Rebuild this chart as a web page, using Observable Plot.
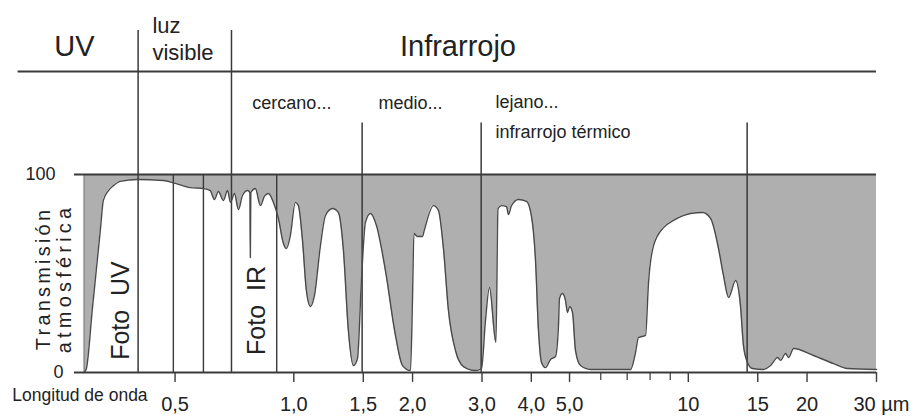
<!DOCTYPE html>
<html><head><meta charset="utf-8">
<script src="https://cdn.jsdelivr.net/npm/d3@7"></script>
<script src="https://cdn.jsdelivr.net/npm/@observablehq/plot@0.6"></script>
<style>body{margin:0;background:#fff} svg{display:block}</style>
</head><body><div id="chart"></div>
<script>
// Atmospheric transmission (%) versus wavelength (µm)
const wavelength = [0.294, 0.298, 0.3085, 0.3158, 0.3233, 0.329, 0.339, 0.349, 0.363, 0.401, 0.467, 0.501, 0.547,
  0.590, 0.614, 0.629, 0.644, 0.663, 0.679, 0.691, 0.707, 0.724, 0.741,
  0.763, 0.774, 0.776, 0.778, 0.799, 0.823, 0.842, 0.862, 0.888, 0.914,
  0.941, 0.958, 0.980, 1.009, 1.027, 1.052, 1.076, 1.102, 1.128, 1.168,
  1.203, 1.253, 1.297, 1.336, 1.375, 1.416, 1.450, 1.484, 1.519, 1.564,
  1.620, 1.707, 1.810, 1.886, 1.976, 1.999, 2.016, 2.058, 2.119, 2.144,
  2.259, 2.326, 2.395, 2.466, 2.569, 2.692, 2.887, 2.991, 3.061, 3.133,
  3.254, 3.293, 3.361, 3.461, 3.501, 3.563, 3.712, 3.889, 4.004, 4.099,
  4.171, 4.245, 4.345, 4.474, 4.606, 4.688, 4.715, 4.798, 4.883, 4.941,
  4.999, 5.087, 5.177, 5.331, 5.649, 7.138, 7.349, 7.479, 7.791, 7.929,
  8.164, 8.656, 9.173, 10.13, 10.87, 11.39, 11.93, 12.28, 12.65, 13.18,
  13.56, 13.80, 14.13, 14.55, 15.51, 16.16, 16.84, 17.13, 17.64, 17.96,
  18.49, 20.77, 23.34, 25.33, 30];
const transmission = [0, 2, 32, 52, 72, 86.9, 91.9, 94.4, 96.5, 97.5, 97, 95.5, 93.4,
  92.9, 91.9, 87.4, 91.4, 86.9, 91.9, 85.9, 90.4, 82.3, 89.4,
  91.9, 90.9, 58, 90.9, 92.9, 84.3, 88.9, 90.4, 85.9, 77.8,
  65.2, 62.6, 69.2, 85.9, 84.3, 66.7, 41.4, 33.3, 38.9, 64.1,
  79.3, 82.8, 80.8, 61.6, 21.2, 3.5, 7.1, 46.5, 75.8, 80.3,
  74.2, 51.5, 18.7, 3.5, 1, 36.4, 70.2, 68.7, 68.7, 72.2,
  84.3, 81.8, 62.6, 31.3, 11.1, 3, 1, 2, 26.3, 42.9,
  15.2, 82.8, 84.3, 83.8, 79.8, 84.3, 87.4, 86.4, 78.8, 56.6,
  21.2, 5.1, 2.5, 6.6, 8.1, 23.7, 37.4, 39.9, 36.4, 30.3,
  33.3, 30.3, 11.1, 3.5, 1.5, 1.5, 10.1, 17.7, 18.7, 45.5,
  64.1, 73.2, 76.8, 80.3, 80.8, 77.8, 62.6, 49, 37.9, 46.5,
  33.8, 13.6, 5.1, 2, 1.5, 3.5, 7.6, 6.1, 9.6, 7.6,
  12.1, 8.6, 4.5, 2, 1.5];

const tickValues = [0.5, 1, 1.5, 2, 3, 4, 5, 10, 15, 20];
const tickLabels = ["0,5", "1,0", "1,5", "2,0", "3,0", "4,0", "5,0", "10", "15", "20"];
const lastTickValue = [30];
const lastTickLabel = ["30 µm"];
const minorTicks = [6, 7, 8, 9];
const yTickValues = [100, 0];
const yTickLabels = ["100", "0"];

const spectralBands = ["UV", "luz\nvisible", "Infrarrojo"];
const bandBoundaries = [0.403, 0.695];
const filmLines = [0.495, 0.59, 0.905];
const irRegionBoundaries = [1.49, 2.985, 14.1];
const irRegions = ["cercano...", "medio...", "lejano...", "infrarrojo térmico"];
const filmLabels = ["Foto\u00a0\u00a0UV", "Foto\u00a0\u00a0IR"];
const yTitle = ["Transmisión", "atmosférica"];
const xTitle = "Longitud de onda";

const spectrum = wavelength.map((w, i) => ({w, t: transmission[i]}));
const ink = "#3a3a3a";
const font = "'Liberation Sans', Arial, Helvetica, sans-serif";

const chart = Plot.plot({
  width: 918,
  height: 419,
  marginLeft: 74,
  marginRight: 42,
  marginTop: 174,
  marginBottom: 47,
  x: {type: "log", domain: [0.278, 30], axis: null},
  y: {domain: [0, 100], axis: null},
  style: {background: "#fff", fontFamily: font, color: "#222", overflow: "visible"},
  marks: [
    // absorbed part (above the transmission curve)
    Plot.areaY(spectrum, {x: "w", y1: "t", y2: 100, fill: "#afafaf", curve: "monotone-x"}),
    Plot.ruleX([wavelength[0]], {y1: 0, y2: 100, stroke: "#7a7a7a", strokeWidth: 1}),
    // film / region lines inside the chart
    Plot.ruleX(filmLines, {y1: 0, y2: 100, stroke: ink, strokeWidth: 1.4}),
    Plot.ruleX(bandBoundaries, {y1: 0, y2: 172.7, stroke: ink, strokeWidth: 1.5}),
    Plot.ruleX(irRegionBoundaries, {y1: 0, y2: 126, stroke: ink, strokeWidth: 1.5}),
    // transmission curve
    Plot.line(spectrum, {x: "w", y: "t", stroke: "#4a4a4a", strokeWidth: 1.4, curve: "monotone-x"}),
    // 100 % and 0 % lines
    Plot.ruleY([100], {stroke: ink, strokeWidth: 2}),
    Plot.ruleY([0], {stroke: ink, strokeWidth: 2}),
    // x ticks
    Plot.ruleX(tickValues.concat(lastTickValue), {y1: 0, y2: -5, stroke: ink, strokeWidth: 1.4}),
    Plot.ruleX(minorTicks, {y1: 0, y2: -4, stroke: ink, strokeWidth: 1.2}),
    Plot.text(tickLabels, {x: tickValues, y: -16.4, text: d => d, fontSize: 20, fill: "#222", lineAnchor: "middle"}),
    Plot.text(lastTickLabel, {x: lastTickValue, y: -16.4, text: d => d, fontSize: 20, fill: "#222", lineAnchor: "middle", textAnchor: "start", dx: -23}),
    Plot.text([xTitle], {x: 0.1934, y: -11.8, text: d => d, fontSize: 17.5, textAnchor: "start", lineAnchor: "middle", fill: "#222"}),
    // y labels
    Plot.text([yTickLabels[0]], {y: [yTickValues[0]], frameAnchor: "left", dx: -19, text: d => d, fontSize: 18, textAnchor: "end", lineAnchor: "middle", fill: "#222"}),
    Plot.text([yTickLabels[1]], {y: [yTickValues[1]], frameAnchor: "left", dx: -11, text: d => d, fontSize: 18, textAnchor: "end", lineAnchor: "middle", fill: "#222"}),
    Plot.text([yTitle[0]], {y: [47.5], frameAnchor: "left", dx: -31, text: d => d, rotate: -90, fontSize: 20, textAnchor: "middle", lineAnchor: "middle", fill: "#222"}),
    Plot.text([yTitle[1]], {y: [47.5], frameAnchor: "left", dx: -10, text: d => d, rotate: -90, fontSize: 20, textAnchor: "middle", lineAnchor: "middle", fill: "#222"}),
    // film labels
    Plot.text(filmLabels, {x: [0.3655, 0.8085], y: 31.3, text: d => d, rotate: -90, fontSize: 25, lineAnchor: "middle", fill: "#222"}),
    // header
    Plot.ruleY([152], {x1: 0.2, x2: 30, stroke: ink, strokeWidth: 2}),
    Plot.text([spectralBands[0]], {x: [0.278], y: 160.1, text: d => d, fontSize: 29, lineAnchor: "bottom", fill: "#222"}),
    Plot.text([spectralBands[1]], {x: [0.438], y: 157.6, text: d => d, fontSize: 22, lineAnchor: "bottom", textAnchor: "start", lineHeight: 1.25, fill: "#222"}),
    Plot.text([spectralBands[2]], {x: [2.607], y: 160.1, text: d => d, fontSize: 29, lineAnchor: "bottom", fill: "#222"}),
    Plot.text(irRegions, {x: [0.785, 1.639, 3.245, 3.245], y: [133.3, 133.3, 133.8, 118.2], text: d => d, fontSize: 18, lineAnchor: "bottom", textAnchor: "start", fill: "#222"})
  ]
});
// spaced-out lettering of the rotated axis title, as in the original
chart.querySelectorAll("text").forEach(t => {
  if (t.textContent === yTitle[0]) t.setAttribute("letter-spacing", "3.2");
  if (t.textContent === yTitle[1]) t.setAttribute("letter-spacing", "4.2");
});
document.getElementById("chart").appendChild(chart);
</script>
</body></html>
